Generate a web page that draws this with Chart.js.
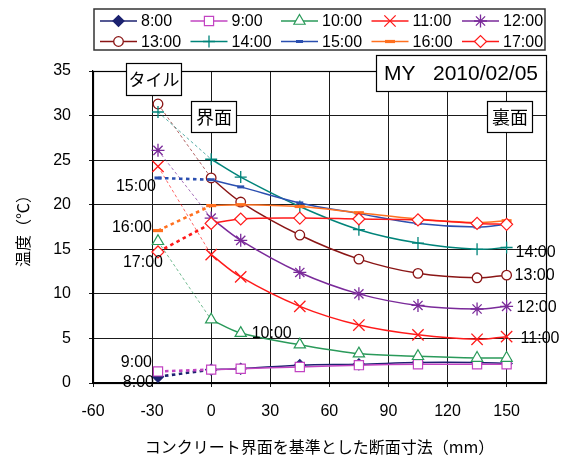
<!DOCTYPE html>
<html>
<head>
<meta charset="utf-8">
<script src="https://cdn.jsdelivr.net/npm/chart.js@4/dist/chart.umd.min.js"></script>
<style>
  html, body { margin: 0; padding: 0; background: #fff; }
  canvas { display: block; }
</style>
</head>
<body>
<canvas id="chart" width="571" height="460"></canvas>
<script>
// Measurement times
const hours = ['8:00', '9:00', '10:00', '11:00', '12:00', '13:00', '14:00', '15:00', '16:00', '17:00'];

// Depth from the concrete interface (mm); tile surface sits at tileDepth
const depths = [0, 15, 45, 75, 105, 135, 150];
const tileDepth = -27;

// Tile surface temperature for each time (°C)
const tileTemps = [0.7, 1.3, 15.9, 24.3, 26.1, 31.3, 30.4, 23.0, 17.1, 14.7];

// Temperature profile through the concrete (°C), one list per time
const t0800 = [1.5, 1.6, 2.0, 2.1, 2.3, 2.3, 2.2];
const t0900 = [1.5, 1.6, 1.8, 2.0, 2.1, 2.1, 2.1];
const t1000 = [7.1, 5.6, 4.3, 3.3, 3.0, 2.8, 2.8];
const t1100 = [14.4, 11.9, 8.6, 6.5, 5.4, 4.9, 5.2];
const t1200 = [18.5, 16.0, 12.4, 10.0, 8.7, 8.3, 8.6];
const t1300 = [23.0, 20.3, 16.6, 13.9, 12.3, 11.8, 12.1];
const t1400 = [25.1, 23.1, 19.8, 17.2, 15.7, 15.0, 15.2];
const t1500 = [22.8, 22.0, 20.2, 19.0, 17.9, 17.5, 17.8];
const t1600 = [19.9, 20.0, 19.8, 19.1, 18.4, 18.0, 18.2];
const t1700 = [17.9, 18.4, 18.5, 18.4, 18.3, 17.9, 17.8];
const profiles = [t0800, t0900, t1000, t1100, t1200, t1300, t1400, t1500, t1600, t1700];

// Axis ticks
const xTicks = [-60, -30, 0, 30, 60, 90, 120, 150];
const yTicks = [0, 5, 10, 15, 20, 25, 30, 35];

// Text
const xTitle = 'コンクリート界面を基準とした断面寸法（mm）';
const yTitle = '温度（℃）';
const stampText = 'MY   2010/02/05';
const tileLabel = 'タイル';
const interfaceLabel = '界面';
const backLabel = '裏面';

// Marker / line style for each time
const styles = [
  { color: '#1c2270', fill: '#1c2270', point: 'rectRot',  r: 5.5, pw: 1.2, link: 'bold' },
  { color: '#c244c2', fill: '#ffffff', point: 'rect',     r: 6.5, pw: 1.2, link: 'bold' },
  { color: '#2a9a5a', fill: '#ffffff', point: 'triangle', r: 6.5, pw: 1.2, link: 'thin' },
  { color: '#ff1a1a', fill: '#ffffff', point: 'crossRot', r: 8,   pw: 1.3, link: 'thin' },
  { color: '#7a2a9a', fill: '#ffffff', point: 'star',     r: 6.5, pw: 1.3, link: 'thin' },
  { color: '#8a1515', fill: '#ffffff', point: 'circle',   r: 4.8, pw: 1.3, link: 'thin' },
  { color: '#00847a', fill: '#ffffff', point: 'cross',    r: 6,   pw: 1.3, link: 'thin' },
  { color: '#2b4fb0', fill: '#2b4fb0', point: 'line',     r: 3.5, pw: 3,   link: 'bold' },
  { color: '#ff7020', fill: '#ff7020', point: 'line',     r: 5,   pw: 3.2, link: 'bold' },
  { color: '#ff1a1a', fill: '#ffffff', point: 'rectRot',  r: 6,   pw: 1.2, link: 'bold' }
];

// Where each time label sits, relative to one of its points
const labelPlaces = [
  { at: 'tile', dx: -4,  dy: 6,   align: 'right' },
  { at: 'tile', dx: -6,  dy: -9,  align: 'right' },
  { at: 1,      dx: 11,  dy: 1,   align: 'left' },
  { at: 6,      dx: 14,  dy: 2,   align: 'left' },
  { at: 6,      dx: 10,  dy: 1,   align: 'left' },
  { at: 6,      dx: 8,   dy: 0,   align: 'left' },
  { at: 6,      dx: 9,   dy: 5.5, align: 'left' },
  { at: 'tile', dx: -2,  dy: 9,   align: 'right' },
  { at: 'tile', dx: -6,  dy: -3,  align: 'right' },
  { at: 'tile', dx: 5,   dy: 11,  align: 'right' }
];

const LATIN = '"Liberation Sans", Arial, sans-serif';
const CJK = '"Noto Sans CJK JP", sans-serif';

const datasets = [];
hours.forEach((h, i) => {
  const s = styles[i];
  // solid profile through the concrete
  datasets.push({
    label: h,
    data: depths.map((d, k) => ({ x: d, y: profiles[i][k] })),
    borderColor: s.color,
    backgroundColor: s.fill,
    borderWidth: 1.5,
    tension: 0.35,
    pointStyle: s.point,
    pointRadius: s.r,
    pointBorderWidth: s.pw,
    pointBorderColor: s.color,
    pointBackgroundColor: s.fill,
    order: -i,
    legendItem: true
  });
  // dotted link from the tile surface to the interface
  const bold = s.link === 'bold';
  datasets.push({
    label: h + ' tile',
    data: [{ x: tileDepth, y: tileTemps[i] }, { x: 0, y: profiles[i][0] }],
    borderColor: bold ? s.color : s.color + 'bb',
    backgroundColor: s.fill,
    borderWidth: bold ? 2.6 : 0.9,
    borderDash: bold ? [3.5, 3.5] : [3, 2.5],
    tension: 0,
    pointStyle: s.point,
    pointRadius: [s.r, 0],
    pointBorderWidth: s.pw,
    pointBorderColor: s.color,
    pointBackgroundColor: s.fill,
    order: -i + 0.5,
    legendItem: false
  });
});

// Marker drawing for the legend, using the library's own helper when present
function marker(ctx, style, radius, bw, x, y) {
  if (Chart.helpers && Chart.helpers.drawPoint) {
    Chart.helpers.drawPoint(ctx, { pointStyle: style, radius: radius, borderWidth: bw, rotation: 0 }, x, y);
    return;
  }
  ctx.beginPath();
  ctx.arc(x, y, radius, 0, Math.PI * 2);
  ctx.fill();
  ctx.stroke();
}

const legendPlugin = {
  id: 'boxedLegend',
  afterDraw(chart) {
    const ctx = chart.ctx;
    const items = chart.data.datasets.filter(d => d.legendItem);
    const left = 94, top = 9, width = 451, height = 41;
    ctx.save();
    ctx.fillStyle = '#fff';
    ctx.fillRect(left, top, width, height);
    ctx.strokeStyle = '#333';
    ctx.lineWidth = 1.5;
    ctx.strokeRect(left, top, width, height);
    ctx.font = '16px ' + LATIN;
    ctx.textBaseline = 'middle';
    items.forEach((d, i) => {
      const col = i % 5, row = Math.floor(i / 5);
      const x0 = 100 + col * 90.5;
      const y0 = row === 0 ? 21 : 41.5;
      ctx.strokeStyle = d.borderColor;
      ctx.lineWidth = 1.5;
      ctx.setLineDash([]);
      ctx.beginPath();
      ctx.moveTo(x0, y0);
      ctx.lineTo(x0 + 37, y0);
      ctx.stroke();
      ctx.fillStyle = d.pointBackgroundColor;
      ctx.strokeStyle = d.pointBorderColor;
      ctx.lineWidth = d.pointBorderWidth;
      marker(ctx, d.pointStyle, d.pointRadius, d.pointBorderWidth, x0 + 18.5, y0);
      ctx.fillStyle = '#000';
      ctx.textAlign = 'left';
      ctx.fillText(d.label, x0 + 41, y0 + 1);
    });
    ctx.restore();
  }
};

const frameAndNotes = {
  id: 'frameAndNotes',
  beforeDatasetsDraw(chart) {
    const { ctx, chartArea: a } = chart;
    ctx.save();
    ctx.strokeStyle = '#000';
    ctx.lineWidth = 1.2;
    ctx.strokeRect(Math.round(a.left) + 0.5, Math.round(a.top) + 0.5,
                   Math.round(a.right - a.left), Math.round(a.bottom - a.top));
    ctx.restore();
  },
  afterDatasetsDraw(chart) {
    const { ctx, chartArea: a, scales } = chart;
    const xs = scales.x, ys = scales.y;

    const box = (cx, y, w, h, text, font) => {
      const x = Math.round(cx - w / 2) + 0.5;
      ctx.fillStyle = '#fff';
      ctx.fillRect(x, y + 0.5, w, h);
      ctx.strokeStyle = '#000';
      ctx.lineWidth = 1.2;
      ctx.strokeRect(x, y + 0.5, w, h);
      ctx.fillStyle = '#000';
      ctx.font = font;
      ctx.textAlign = 'center';
      ctx.textBaseline = 'middle';
      ctx.fillText(text, x + w / 2, y + h / 2 + 1);
    };

    ctx.save();
    // location captions
    box(xs.getPixelForValue(tileDepth) - 4, a.top - 8, 55, 32, tileLabel, '17px ' + CJK);
    box(xs.getPixelForValue(0) + 2, a.top + 30, 45, 31, interfaceLabel, '18px ' + CJK);
    box(xs.getPixelForValue(150) + 3, a.top + 30, 45, 31, backLabel, '18px ' + CJK);

    // date stamp in the top right corner
    const sx = 376, sy = a.top - 16, sw = Math.round(a.right) - 376, sh = 36;
    ctx.fillStyle = '#fff';
    ctx.fillRect(sx + 0.5, sy + 0.5, sw, sh);
    ctx.strokeStyle = '#000';
    ctx.lineWidth = 1.2;
    ctx.strokeRect(sx + 0.5, sy + 0.5, sw, sh);
    ctx.fillStyle = '#000';
    ctx.font = '21px ' + LATIN;
    ctx.textAlign = 'center';
    ctx.textBaseline = 'middle';
    ctx.fillText(stampText, sx + sw / 2, sy + sh / 2 + 1);

    // time labels beside their series
    ctx.font = '16px ' + LATIN;
    ctx.textBaseline = 'middle';
    hours.forEach((h, i) => {
      const p = labelPlaces[i];
      const xv = p.at === 'tile' ? tileDepth : depths[p.at];
      const yv = p.at === 'tile' ? tileTemps[i] : profiles[i][p.at];
      ctx.textAlign = p.align;
      ctx.fillText(h, xs.getPixelForValue(xv) + p.dx, ys.getPixelForValue(yv) + p.dy);
    });
    ctx.restore();
  }
};

new Chart(document.getElementById('chart'), {
  type: 'line',
  data: { datasets },
  options: {
    responsive: false,
    animation: false,
    events: [],
    layout: { padding: { top: 71, right: 25, left: 0, bottom: 0 } },
    plugins: { legend: { display: false }, tooltip: { enabled: false } },
    scales: {
      x: {
        type: 'linear',
        min: -60,
        max: 170,
        afterBuildTicks: s => { s.ticks = xTicks.map(v => ({ value: v })); },
        afterFit: s => { s.height = 77; },
        ticks: { color: '#000', font: { family: LATIN, size: 16 }, padding: 15, maxRotation: 0 },
        grid: { color: '#1a1a1a', lineWidth: 1, tickLength: 4 },
        border: { color: '#000', width: 1.2 },
        title: { display: true, text: xTitle, color: '#000', font: { family: CJK, size: 16 }, padding: { top: 0, bottom: 3 } }
      },
      y: {
        type: 'linear',
        min: 0,
        max: 35,
        afterBuildTicks: s => { s.ticks = yTicks.map(v => ({ value: v })); },
        afterFit: s => { s.width = 93; },
        ticks: { color: '#000', font: { family: LATIN, size: 16 }, padding: 18 },
        grid: { color: '#1a1a1a', lineWidth: 1, tickLength: 4 },
        border: { color: '#000', width: 1.2 },
        title: { display: true, text: yTitle, color: '#000', font: { family: CJK, size: 16 }, padding: { top: 13, bottom: 0 } }
      }
    }
  },
  plugins: [legendPlugin, frameAndNotes]
});
</script>
</body>
</html>
